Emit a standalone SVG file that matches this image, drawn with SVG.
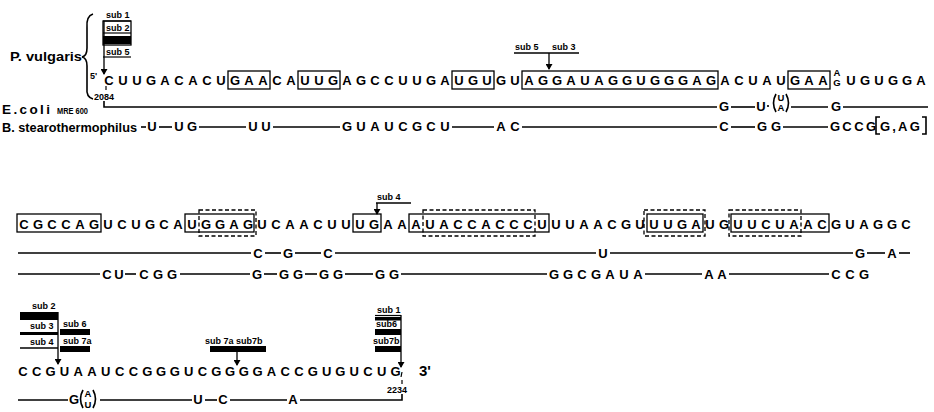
<svg xmlns="http://www.w3.org/2000/svg" width="934" height="412" viewBox="0 0 934 412">
<style>
text{font-family:"Liberation Sans",Arial,sans-serif;font-weight:bold;fill:#000}
.seq{font-size:13px;text-anchor:middle}
.sm{font-size:9.5px;text-anchor:middle}
.lbl{font-size:13px}
.sub{font-size:9px}
.ln{stroke:#000;stroke-width:1.6;fill:none}
.thin{stroke:#000;stroke-width:1.2;fill:none}
.box{stroke:#000;stroke-width:1.3;fill:none}
.dbox{stroke:#000;stroke-width:1.3;fill:none;stroke-dasharray:4 2.5}
.arr{stroke:#000;stroke-width:1.3;fill:none;marker-end:url(#ah)}
</style>
<defs>
<marker id="ah" markerWidth="6" markerHeight="7" refX="5" refY="3.5" orient="auto" markerUnits="userSpaceOnUse"><path d="M0,0 L6,3.5 L0,7 z" fill="#000"/></marker>
</defs>
<rect width="934" height="412" fill="#fff"/>

<!-- ===== Row 1 ===== -->
<g id="labels1">
<text class="lbl" x="10" y="61" font-size="14" textLength="72" lengthAdjust="spacingAndGlyphs">P. vulgaris</text>
<path class="ln" d="M93,14 Q86,16 87,28 L87,48 Q87,56 82,57 Q87,58 87,66 L87,88 Q86,97 93,99"/>
<text class="sub" x="90" y="79">5'</text>
<text class="sub" x="94" y="100">2084</text>
<line class="thin" x1="106" y1="86" x2="106" y2="90"/>
<text x="2" y="114" font-size="13.5" textLength="48" lengthAdjust="spacing">E.coli</text>
<text x="57" y="114" font-size="9" textLength="31" lengthAdjust="spacingAndGlyphs">MRE 600</text>
<text x="2" y="132" font-size="12.5" textLength="135" lengthAdjust="spacingAndGlyphs">B. stearothermophilus</text>
</g>

<g id="subs1">
<text class="sub" x="106" y="18">sub 1</text>
<line class="thin" x1="103" y1="21" x2="131" y2="21"/>
<rect class="box" x="103" y="21" width="28" height="24"/>
<text class="sub" x="106" y="31">sub 2</text>
<line class="thin" x1="103" y1="33" x2="131" y2="33"/>
<rect x="103" y="36" width="28" height="8" fill="#000"/>
<text class="sub" x="106" y="55">sub 5</text>
<line class="thin" x1="103" y1="57" x2="131" y2="57"/>
<line class="arr" x1="104" y1="21" x2="104" y2="74"/>
<text class="sub" x="515" y="50">sub 5</text>
<text class="sub" x="552" y="50">sub 3</text>
<line class="ln" x1="514" y1="53" x2="579" y2="53"/>
<line class="arr" x1="549" y1="53" x2="549" y2="69"/>
</g>

<g id="pvulgaris1">
<text class="seq" x="109 123 137 151 165 179 193 207 221 235 249 263 277 291 305 319 333 347 361 375 389 403 417 431 445 459 473 487 501 515 529 543 557 571 585 599 613 627 641 655 669 683 697 711 725 739 753 767 781 795 809 823" y="85">CUUGACACUGAACAUUGAGCCUUGAUGUGUAGGAUAGGUGGGAGACUAUGAA</text>
<text class="sm" x="837" y="76">A</text>
<text class="sm" x="837" y="86">G</text>
<text class="seq" x="851 865 879 893 907 921" y="85">UGUGGA</text>
<rect class="box" x="228" y="71" width="42" height="18"/>
<rect class="box" x="298" y="71" width="42" height="18"/>
<rect class="box" x="452" y="71" width="42" height="18"/>
<rect class="box" x="522" y="71" width="196" height="18"/>
<rect class="box" x="788" y="71" width="42" height="18"/>
</g>

<g id="ecoli1">
<path class="ln" d="M104,101 V107 H717"/>
<text class="seq" x="724" y="111">G</text>
<line class="ln" x1="731" y1="107" x2="755" y2="107"/>
<text class="seq" x="761" y="111">U</text>
<circle cx="768" cy="106" r="1.1"/>
<path class="ln" d="M776,94 Q771,103 776,112"/>
<text class="sm" x="781" y="101">U</text>
<text class="sm" x="781" y="111">A</text>
<path class="ln" d="M786,94 Q791,103 786,112"/>
<line class="ln" x1="791" y1="107" x2="828" y2="107"/>
<text class="seq" x="836" y="111">G</text>
<line class="ln" x1="843" y1="107" x2="928" y2="107"/>
</g>

<g id="bstearo1">
<line class="ln" x1="141" y1="127" x2="146" y2="127"/>
<text class="seq" x="152" y="131">U</text>
<line class="ln" x1="159" y1="127" x2="172" y2="127"/>
<text class="seq" x="179 192" y="131">UG</text>
<line class="ln" x1="199" y1="127" x2="246" y2="127"/>
<text class="seq" x="253 266" y="131">UU</text>
<line class="ln" x1="273" y1="127" x2="340" y2="127"/>
<text class="seq" x="347 361 375 389 403 417 431 445" y="131">GUAUCGCU</text>
<line class="ln" x1="452" y1="127" x2="494" y2="127"/>
<text class="seq" x="501 515" y="131">AC</text>
<line class="ln" x1="522" y1="127" x2="717" y2="127"/>
<text class="seq" x="724" y="131">C</text>
<line class="ln" x1="731" y1="127" x2="755" y2="127"/>
<text class="seq" x="762 776" y="131">GG</text>
<line class="ln" x1="783" y1="127" x2="828" y2="127"/>
<text class="seq" x="835 847 859 871" y="131">GCCG</text>
<path class="ln" d="M880,117 H876 V134 H880"/>
<text x="880" y="131" font-size="13" letter-spacing="2.2">G,AG</text>
<path class="ln" d="M922,117 H926 V134 H922"/>
</g>

<!-- ===== Row 2 ===== -->
<g id="subs2">
<text class="sub" x="377" y="200">sub 4</text>
<line class="ln" x1="376" y1="203" x2="411" y2="203"/>
<line class="arr" x1="377" y1="203" x2="377" y2="214"/>
</g>

<g id="pvulgaris2">
<text class="seq" x="24 38 52 66 80 94 108 122 136 150 164 178 192 206 220 234 248 262 276 290 304 318 332 346 360 374 388 402 416 430 444 458 472 486 500 514 528 542 556 570 584 598 612 626 640 654 668 682 696 710 724 738 752 766 780 794 808 822 836 850 864 878 892 906" y="229">CGCCAGUCUGCAUGGAGUCAACUUUGAAAUACCACCCUUUAACGUUUGAUGUUCUAACGUAGGC</text>
<rect class="box" x="17" y="214" width="84" height="18"/>
<rect class="box" x="185" y="214" width="69" height="18"/>
<rect class="dbox" x="199" y="210" width="57" height="26"/>
<rect class="box" x="353" y="214" width="28" height="18"/>
<rect class="box" x="409" y="214" width="140" height="18"/>
<rect class="dbox" x="423" y="210" width="112" height="26"/>
<rect class="box" x="647" y="214" width="56" height="18"/>
<rect class="dbox" x="644" y="210" width="61" height="26"/>
<rect class="box" x="731" y="214" width="98" height="18"/>
<rect class="dbox" x="729" y="210" width="72" height="26"/>
</g>

<g id="ecoli2">
<line class="ln" x1="18" y1="253" x2="251" y2="253"/>
<text class="seq" x="258" y="258">C</text>
<line class="ln" x1="265" y1="253" x2="281" y2="253"/>
<text class="seq" x="288" y="258">G</text>
<line class="ln" x1="295" y1="253" x2="321" y2="253"/>
<text class="seq" x="328" y="258">C</text>
<line class="ln" x1="335" y1="253" x2="596" y2="253"/>
<text class="seq" x="603" y="258">U</text>
<line class="ln" x1="610" y1="253" x2="853" y2="253"/>
<text class="seq" x="860" y="258">G</text>
<line class="ln" x1="867" y1="253" x2="885" y2="253"/>
<text class="seq" x="892" y="258">A</text>
<line class="ln" x1="899" y1="253" x2="910" y2="253"/>
</g>

<g id="bstearo2">
<line class="ln" x1="18" y1="274" x2="100" y2="274"/>
<text class="seq" x="107 119" y="279">CU</text>
<line class="ln" x1="125" y1="274" x2="136" y2="274"/>
<text class="seq" x="144 158 172" y="279">CGG</text>
<line class="ln" x1="180" y1="274" x2="250" y2="274"/>
<text class="seq" x="257" y="279">G</text>
<line class="ln" x1="264" y1="274" x2="277" y2="274"/>
<text class="seq" x="284 298" y="279">GG</text>
<line class="ln" x1="305" y1="274" x2="317" y2="274"/>
<text class="seq" x="324 338" y="279">GG</text>
<line class="ln" x1="345" y1="274" x2="373" y2="274"/>
<text class="seq" x="380 394" y="279">GG</text>
<line class="ln" x1="401" y1="274" x2="547" y2="274"/>
<text class="seq" x="554 568 582 596 610 624 638" y="279">GGCGAUA</text>
<line class="ln" x1="645" y1="274" x2="702" y2="274"/>
<text class="seq" x="709 722" y="279">AA</text>
<line class="ln" x1="729" y1="274" x2="829" y2="274"/>
<text class="seq" x="836 850 864" y="279">CCG</text>
</g>

<!-- ===== Row 3 ===== -->
<g id="subs3">
<text class="sub" x="32" y="309">sub 2</text>
<rect x="20" y="312" width="38" height="8" fill="#000"/>
<text class="sub" x="30" y="329">sub 3</text>
<rect x="20" y="332" width="38" height="3" fill="#000"/>
<text class="sub" x="30" y="345">sub 4</text>
<line class="ln" x1="20" y1="348" x2="58" y2="348"/>
<text class="sub" x="63" y="327">sub 6</text>
<rect x="60" y="329" width="30" height="6" fill="#000"/>
<text class="sub" x="63" y="344">sub 7a</text>
<rect x="60" y="346" width="30" height="6" fill="#000"/>
<line class="arr" x1="58" y1="312" x2="58" y2="364"/>
<text class="sub" x="205" y="344">sub 7a sub7b</text>
<rect x="210" y="346" width="56" height="6" fill="#000"/>
<line class="arr" x1="237" y1="352" x2="237" y2="365"/>
<text class="sub" x="377" y="313">sub 1</text>
<line class="thin" x1="375" y1="315.5" x2="401" y2="315.5"/>
<rect x="375" y="317" width="26" height="3.5" fill="#000"/>
<text class="sub" x="376" y="327">sub6</text>
<rect x="375" y="329" width="26" height="6" fill="#000"/>
<text class="sub" x="373" y="344">sub7b</text>
<rect x="375" y="346" width="26" height="6" fill="#000"/>
<line class="arr" x1="401" y1="315" x2="401" y2="367"/>
</g>

<g id="pvulgaris3">
<text class="seq" x="23 36.8 50.6 64.4 78.2 92 105.8 119.6 133.4 147.2 161 174.8 188.6 202.4 216.2 230 243.8 257.6 271.4 285.2 299 312.8 326.6 340.4 354.2 368 381.8 395.6" y="376">CCGUAAUCCGGGUCGGGGACCGUGUCUG</text>
<line class="thin" x1="402" y1="372" x2="401" y2="377"/>
<text x="419" y="376" font-size="15">3'</text>
<line class="thin" x1="402" y1="380" x2="402" y2="384"/>
<text class="sub" x="387" y="393">2234</text>
</g>

<g id="ecoli3">
<line class="ln" x1="18" y1="400" x2="68" y2="400"/>
<text class="seq" x="74" y="404">G</text>
<path class="ln" d="M83,390 Q78,399 83,408"/>
<text class="sm" x="88" y="397">A</text>
<text class="sm" x="88" y="408">U</text>
<path class="ln" d="M93,390 Q98,399 93,408"/>
<line class="ln" x1="100" y1="400" x2="192" y2="400"/>
<text class="seq" x="198" y="404">U</text>
<line class="ln" x1="205" y1="400" x2="217" y2="400"/>
<text class="seq" x="223" y="404">C</text>
<line class="ln" x1="230" y1="400" x2="287" y2="400"/>
<text class="seq" x="293" y="404">A</text>
<path class="ln" d="M300,400 H402 V394"/>
</g>
</svg>
